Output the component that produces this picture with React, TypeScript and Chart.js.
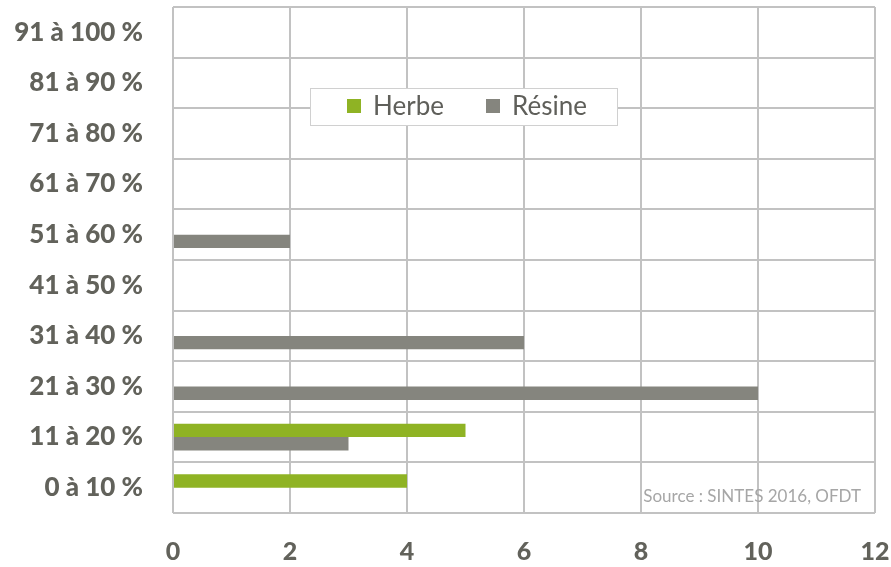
import React, { useEffect, useRef } from "react";
import { Chart, registerables } from "chart.js";

Chart.register(...registerables);

const categories = [
  "91 à 100 %",
  "81 à 90 %",
  "71 à 80 %",
  "61 à 70 %",
  "51 à 60 %",
  "41 à 50 %",
  "31 à 40 %",
  "21 à 30 %",
  "11 à 20 %",
  "0 à 10 %",
];
const herbeValues = [null, null, null, null, null, null, null, null, 5, 4];
const resineValues = [null, null, null, null, 2, null, 6, 10, 3, null];
const seriesNames = ["Herbe", "Résine"];
const seriesColors = ["#8fb324", "#85857e"];
const sourceText = "Source : SINTES 2016, OFDT";

const FONT = "Lato, 'Open Sans', sans-serif";
const TEXT_COLOR = "#62625b";

const overlayPlugin = {
  id: "overlay",
  afterDraw(chart: any) {
    const ctx = chart.ctx as CanvasRenderingContext2D;
    ctx.save();
    // legend box
    const bx = 310, by = 88, bw = 307, bh = 37;
    ctx.fillStyle = "#ffffff";
    ctx.fillRect(bx, by, bw, bh);
    ctx.strokeStyle = "#d0d0d0";
    ctx.lineWidth = 1;
    ctx.strokeRect(bx + 0.5, by + 0.5, bw, bh);
    ctx.font = `26px ${FONT}`;
    ctx.textBaseline = "middle";
    ctx.textAlign = "left";
    const items = [
      { x: 347, label: seriesNames[0], color: seriesColors[0] },
      { x: 486, label: seriesNames[1], color: seriesColors[1] },
    ];
    for (const it of items) {
      ctx.fillStyle = it.color;
      ctx.fillRect(it.x, by + 11, 14, 14);
      ctx.fillStyle = "#5f5f5a";
      ctx.fillText(it.label, it.x + 26, by + 19);
    }
    // source
    ctx.font = `17px ${FONT}`;
    ctx.fillStyle = "#a6a6a6";
    ctx.textAlign = "right";
    ctx.textBaseline = "middle";
    ctx.fillText(sourceText, 861, 497);
    ctx.restore();
  },
};

export default function App() {
  const ref = useRef<HTMLCanvasElement>(null);
  useEffect(() => {
    document.body.style.margin = "0";
    const chart = new Chart(ref.current!, {
      type: "bar",
      data: {
        labels: categories,
        datasets: [
          {
            label: seriesNames[0],
            data: herbeValues as any,
            backgroundColor: seriesColors[0],
            categoryPercentage: 0.53,
            barPercentage: 1,
          },
          {
            label: seriesNames[1],
            data: resineValues as any,
            backgroundColor: seriesColors[1],
            categoryPercentage: 0.53,
            barPercentage: 1,
          },
        ],
      },
      options: {
        indexAxis: "y",
        animation: false,
        responsive: false,
        maintainAspectRatio: false,
        layout: { padding: { top: 7, right: 16, left: 0, bottom: 0 } },
        plugins: {
          legend: { display: false },
          tooltip: { enabled: false },
        },
        scales: {
          x: {
            min: 0,
            max: 12,
            ticks: {
              stepSize: 2,
              padding: 24,
              color: TEXT_COLOR,
              font: { family: FONT, size: 25, weight: "900" },
            },
            grid: { color: "#c2c2c2", lineWidth: 2, drawTicks: false },
            border: { display: false },
            afterFit(scale: any) {
              scale.height = 54;
              scale.paddingLeft = 0;
              scale.paddingRight = 0;
            },
          },
          y: {
            ticks: {
              padding: 30,
              color: TEXT_COLOR,
              font: { family: FONT, size: 26, weight: "900" },
            },
            grid: { color: "#c2c2c2", lineWidth: 2, drawTicks: false },
            border: { display: false },
            afterFit(scale: any) {
              scale.width = 173;
              scale.paddingTop = 0;
              scale.paddingBottom = 0;
            },
          },
        },
      },
      plugins: [overlayPlugin],
    });
    return () => chart.destroy();
  }, []);
  return (
    <div style={{ width: 891, height: 567, background: "#fff" }}>
      <canvas ref={ref} width={891} height={567} />
    </div>
  );
}
